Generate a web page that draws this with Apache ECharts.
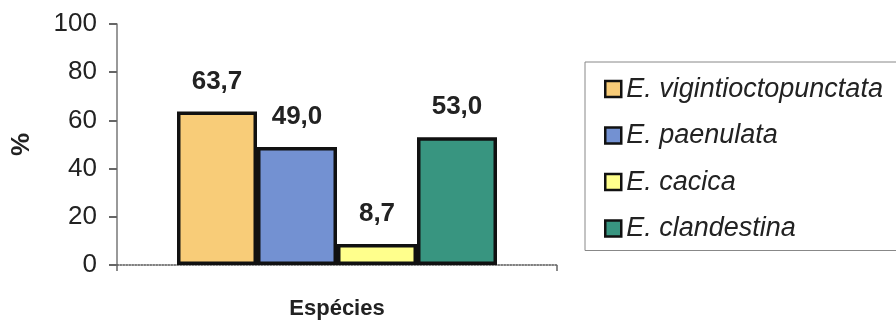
<!DOCTYPE html>
<html>
<head>
<meta charset="utf-8">
<script src="https://cdn.jsdelivr.net/npm/echarts@6/dist/echarts.min.js"></script>
<style>
  html, body { margin: 0; padding: 0; background: #fff; }
  #chart { width: 896px; height: 325px; }
</style>
</head>
<body>
<div id="chart"></div>
<script>
// Percentage per species
const categories = ['Espécies'];
const speciesNames = ['E. vigintioctopunctata', 'E. paenulata', 'E. cacica', 'E. clandestina'];
const speciesValues = [63.7, 49.0, 8.7, 53.0];
const speciesColors = ['#F8CC78', '#7391D2', '#FFFF8C', '#389580'];
const yTicks = { min: 0, max: 100, step: 20 };

const FONT = '"Liberation Sans", Arial, sans-serif';
const fmt = v => v.toFixed(1).replace('.', ',');

const series = speciesNames.map((name, i) => ({
  name: name,
  type: 'bar',
  barWidth: 80,
  barGap: '0%',
  data: [speciesValues[i]],
  itemStyle: { color: speciesColors[i], borderColor: '#111', borderWidth: 3.5 },
  label: {
    show: true,
    position: 'top',
    distance: 17,
    formatter: p => fmt(p.value),
    fontFamily: FONT,
    fontWeight: 'bold',
    fontSize: 26,
    color: '#222'
  }
}));

const chart = echarts.init(document.getElementById('chart'), null, { renderer: 'canvas' });
chart.setOption({
  animation: false,
  backgroundColor: '#fff',
  grid: { left: 117, right: 339, top: 24, bottom: 43, containLabel: false },
  legend: {
    data: speciesNames,
    orient: 'vertical',
    icon: 'rect',
    left: 585,
    top: 62,
    padding: [12, 14, 7, 19],
    itemWidth: 16,
    itemHeight: 16,
    itemGap: 16.5,
    borderColor: '#888',
    borderWidth: 1,
    itemStyle: { borderWidth: 2.5, borderColor: '#111' },
    textStyle: {
      fontFamily: FONT,
      fontStyle: 'italic',
      fontSize: 27,
      lineHeight: 30,
      color: '#222'
    }
  },
  xAxis: {
    type: 'category',
    data: categories,
    name: categories[0],
    nameLocation: 'middle',
    nameGap: 33,
    nameTextStyle: { fontFamily: FONT, fontWeight: 'bold', fontSize: 22, color: '#222' },
    axisLine: { lineStyle: { color: '#555', width: 1.5, type: 'dotted' } },
    axisTick: { show: true, length: 6, lineStyle: { color: '#666', width: 1.5 } },
    axisLabel: { show: false }
  },
  yAxis: {
    type: 'value',
    min: yTicks.min,
    max: yTicks.max,
    interval: yTicks.step,
    name: '%',
    nameLocation: 'middle',
    nameGap: 82,
    nameRotate: 90,
    nameTextStyle: { fontFamily: FONT, fontWeight: 'bold', fontSize: 26, color: '#222' },
    axisLine: { show: true, lineStyle: { color: '#777', width: 1.5 } },
    axisTick: { show: true, length: 8, lineStyle: { color: '#666', width: 2 } },
    axisLabel: { margin: 20, fontFamily: FONT, fontSize: 26, color: '#222' },
    splitLine: { show: false }
  },
  series: series
});
</script>
</body>
</html>
